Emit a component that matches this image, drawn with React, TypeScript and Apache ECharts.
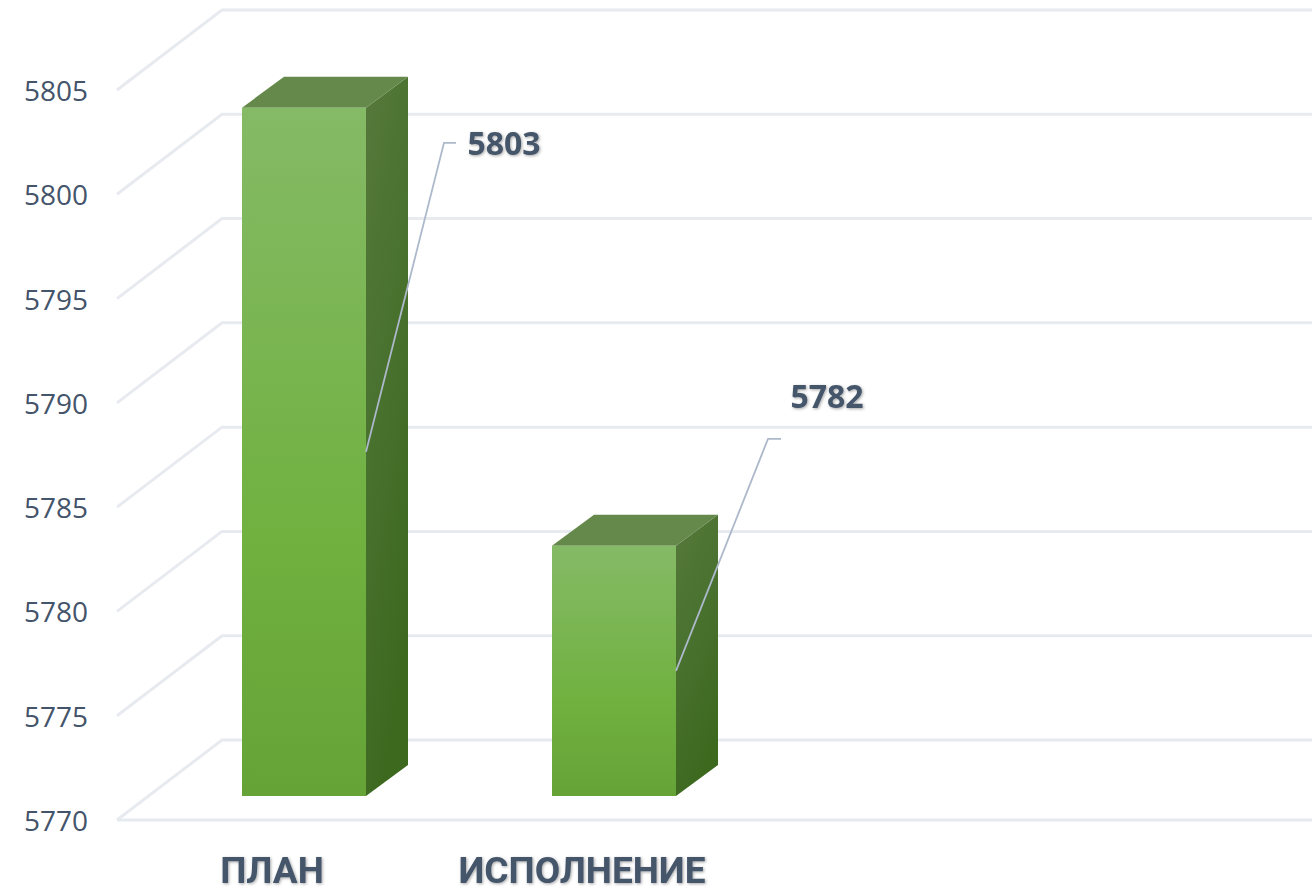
import React, { useEffect, useRef } from "react";
import * as echarts from "echarts";

const categories = ["ПЛАН", "ИСПОЛНЕНИЕ", "", ""];
const values = [5803, 5782];
const yTicks = [5770, 5775, 5780, 5785, 5790, 5795, 5800, 5805];

const FONT = '"Open Sans", "Noto Sans", sans-serif';
const TEXT = "#44546A";
const DEPTH_X = 105;
const DEPTH_Y = 80;
const BAR_W = 124;
const BAR_SHIFT_X = 32;
const BAR_SHIFT_Y = 24;
const SIDE_X = 42;
const SIDE_Y = 31;
const leaders = [
  { ex: 78, ey: -309, tail: 12, lx: 138, ly: -309 },
  { ex: 92, ey: -232, tail: 13, lx: 151, ly: -275 },
];

const grad = (x2: number, y2: number, stops: [number, string][]) =>
  new echarts.graphic.LinearGradient(0, 0, x2, y2, stops.map(([offset, color]) => ({ offset, color })));

function renderGrid(params: any, api: any) {
  const cs = params.coordSys;
  const y = api.coord([0, api.value(1)])[1];
  const left = cs.x;
  const right = cs.x + cs.width;
  const isBase = params.dataIndex === 0;
  const style = { stroke: "#E7EAEF", lineWidth: 3, fill: "none" };
  const children: any[] = [
    {
      type: "polyline",
      shape: { points: [[left, y], [left + DEPTH_X, y - DEPTH_Y], [right, y - DEPTH_Y]] },
      style,
    },
  ];
  if (isBase) {
    children.push({ type: "line", shape: { x1: left, y1: y, x2: right, y2: y }, style });
  }
  return { type: "group", children };
}

function renderBar(params: any, api: any) {
  const cs = params.coordSys;
  const top = api.coord([api.value(0), api.value(1)]);
  const baseY = cs.y + cs.height;
  const x0 = top[0] + BAR_SHIFT_X - BAR_W / 2;
  const x1 = x0 + BAR_W;
  const yT = top[1] - BAR_SHIFT_Y;
  const yB = baseY - BAR_SHIFT_Y;
  return {
    type: "group",
    children: [
      {
        type: "polygon",
        shape: { points: [[x1, yT], [x1 + SIDE_X, yT - SIDE_Y], [x1 + SIDE_X, yB - SIDE_Y], [x1, yB]] },
        style: { fill: grad(0.35, 1, [[0, "#56793B"], [0.45, "#4A7230"], [1, "#3D691F"]]) },
      },
      {
        type: "polygon",
        shape: { points: [[x0, yT], [x0 + SIDE_X, yT - SIDE_Y], [x1 + SIDE_X, yT - SIDE_Y], [x1, yT]] },
        style: { fill: "#64894A" },
      },
      {
        type: "rect",
        shape: { x: x0, y: yT, width: BAR_W, height: yB - yT },
        style: { fill: grad(0, 1, [[0, "#85BA66"], [0.62, "#70B140"], [1, "#65A336"]]) },
      },
    ],
  };
}

function renderLeader(params: any, api: any) {
  const cs = params.coordSys;
  const i = params.dataIndex;
  const top = api.coord([api.value(0), api.value(1)]);
  const baseY = cs.y + cs.height;
  const sx = top[0] + BAR_SHIFT_X + BAR_W / 2;
  const sy = (top[1] + baseY) / 2 - BAR_SHIFT_Y;
  const l = leaders[i];
  return {
    type: "group",
    children: [
      {
        type: "polyline",
        shape: {
          points: [[sx, sy], [sx + l.ex, sy + l.ey], [sx + l.ex + l.tail, sy + l.ey]],
        },
        style: { stroke: "#ADB9CA", lineWidth: 1.8, fill: "none" },
      },
      {
        type: "text",
        style: {
          x: sx + l.lx,
          y: sy + l.ly,
          text: String(api.value(1)),
          font: `bold 32px ${FONT}`,
          fill: TEXT,
          align: "center",
          verticalAlign: "middle",
          textShadowColor: "rgba(0,0,0,0.35)",
          textShadowBlur: 3,
          textShadowOffsetX: 1,
          textShadowOffsetY: 1,
        },
      },
    ],
  };
}

export default function App() {
  const ref = useRef<HTMLDivElement>(null);
  useEffect(() => {
    const chart = echarts.init(ref.current!, undefined, { renderer: "svg" });
    chart.setOption({
      animation: false,
      backgroundColor: "#ffffff",
      grid: { left: 117, width: 1240, top: 90, bottom: 73, outerBoundsMode: "none" },
      xAxis: {
        type: "category",
        data: categories,
        axisLine: { show: false },
        axisTick: { show: false },
        axisLabel: {
          interval: 0,
          margin: 32,
          color: TEXT,
          fontFamily: "Roboto, sans-serif",
          fontWeight: "bold",
          fontSize: 37,
          textShadowColor: "rgba(0,0,0,0.35)",
          textShadowBlur: 3,
          textShadowOffsetX: 1,
          textShadowOffsetY: 1,
        },
      },
      yAxis: {
        type: "value",
        min: yTicks[0],
        max: yTicks[yTicks.length - 1],
        interval: 5,
        axisLine: { show: false },
        axisTick: { show: false },
        splitLine: { show: false },
        axisLabel: {
          margin: 29,
          color: TEXT,
          fontFamily: FONT,
          fontSize: 28,
          formatter: (v: number) => String(v),
        },
      },
      series: [
        {
          type: "custom",
          renderItem: renderGrid,
          data: yTicks.map((v) => [0, v]),
          encode: { x: 0, y: 1 },
          clip: false,
          silent: true,
          z: 1,
        },
        {
          type: "custom",
          renderItem: renderBar,
          data: values.map((v, i) => [i, v]),
          encode: { x: 0, y: 1 },
          clip: false,
          silent: true,
          z: 2,
        },
        {
          type: "custom",
          renderItem: renderLeader,
          data: values.map((v, i) => [i, v]),
          encode: { x: 0, y: 1 },
          clip: false,
          silent: true,
          z: 3,
        },
      ],
    });
    return () => chart.dispose();
  }, []);
  return (
    <div
      ref={ref}
      style={{ position: "absolute", left: 0, top: 0, width: 1312, height: 893, overflow: "hidden" }}
    />
  );
}
